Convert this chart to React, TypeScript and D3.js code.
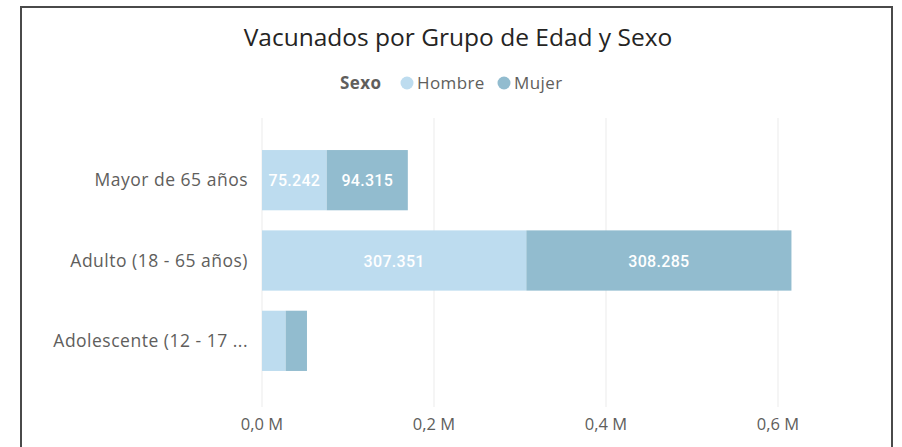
import React, { useEffect, useRef } from 'react'
import * as d3 from 'd3'

// datos
const categories = ['Mayor de 65 años', 'Adulto (18 - 65 años)', 'Adolescente (12 - 17 ...']
const hombre = [75242, 307351, 27500]
const mujer = [94315, 308285, 24800]
const seriesNames = ['Hombre', 'Mujer']
const xTicks = [0, 200000, 400000, 600000]

const W = 902
const H = 447
const colors = ['#bddcef', '#92bccf']
const FONT = '"Open Sans", "Segoe UI", sans-serif'

export default function App() {
  const ref = useRef<SVGSVGElement>(null)

  useEffect(() => {
    const svg = d3.select(ref.current)
    svg.selectAll('*').remove()

    // marco
    svg.append('rect')
      .attr('x', 21).attr('y', 7)
      .attr('width', 871).attr('height', 500)
      .attr('fill', '#fff')
      .attr('stroke', '#4a4a4a')
      .attr('stroke-width', 2)

    // titulo
    svg.append('text')
      .attr('x', 458).attr('y', 46)
      .attr('text-anchor', 'middle')
      .attr('font-family', FONT)
      .attr('font-size', 24.5)
      .attr('fill', '#252423')
      .text('Vacunados por Grupo de Edad y Sexo')

    // leyenda
    const lg = svg.append('g').attr('font-family', FONT).attr('font-size', 17).attr('letter-spacing', 0.4)
    lg.append('text').attr('x', 340).attr('y', 89)
      .attr('font-weight', 'bold').attr('fill', '#605e5c').text('Sexo')
    const lx = [407, 504]
    seriesNames.forEach((s, i) => {
      lg.append('circle').attr('cx', lx[i]).attr('cy', 83).attr('r', 6.5).attr('fill', colors[i])
      lg.append('text').attr('x', lx[i] + 10).attr('y', 89).attr('fill', '#605e5c').text(s)
    })

    const x = d3.scaleLinear().domain([0, 600000]).range([262, 778])
    const y = d3.scaleBand().domain(categories).range([140, 381]).paddingInner(0.25).paddingOuter(0.125)

    // lineas de cuadricula
    svg.append('g').selectAll('line').data(xTicks).enter().append('line')
      .attr('x1', d => x(d)).attr('x2', d => x(d))
      .attr('y1', 118).attr('y2', 407)
      .attr('stroke', '#ebebeb').attr('stroke-width', 1)

    // eje x
    svg.append('g').selectAll('text').data(xTicks).enter().append('text')
      .attr('x', d => x(d)).attr('y', 430)
      .attr('text-anchor', 'middle')
      .attr('font-family', FONT).attr('font-size', 16.5)
      .attr('fill', '#605e5c')
      .text(d => d3.format('.1f')(d / 1e6).replace('.', ',') + ' M')

    // categorias
    svg.append('g').selectAll('text').data(categories).enter().append('text')
      .attr('x', 248).attr('y', d => y(d)! + y.bandwidth() / 2 + 6)
      .attr('text-anchor', 'end')
      .attr('font-family', FONT).attr('font-size', 17.5)
      .attr('letter-spacing', 0.5)
      .attr('fill', '#605e5c')
      .text(d => d)

    // barras apiladas
    const rows = categories.map((c, i) => ({ cat: c, Hombre: hombre[i], Mujer: mujer[i] }))
    const stack = d3.stack<any>().keys(seriesNames)(rows)
    const fmt = (v: number) => d3.format(',')(v).replace(/,/g, '.')

    stack.forEach((layer, si) => {
      const g = svg.append('g')
      g.selectAll('rect').data(layer).enter().append('rect')
        .attr('x', d => x(d[0]))
        .attr('y', d => y(d.data.cat)!)
        .attr('width', d => x(d[1]) - x(d[0]))
        .attr('height', y.bandwidth())
        .attr('fill', colors[si])
      g.selectAll('text').data(layer.filter(d => x(d[1]) - x(d[0]) > 50)).enter().append('text')
        .attr('x', d => (x(d[0]) + x(d[1])) / 2)
        .attr('y', d => y(d.data.cat)! + y.bandwidth() / 2 + 6)
        .attr('text-anchor', 'middle')
        .attr('font-family', 'Roboto, sans-serif')
        .attr('font-weight', 500)
        .attr('font-size', 16)
        .attr('letter-spacing', 0.3)
        .attr('fill', '#fff')
        .text(d => fmt(d[1] - d[0]))
    })
  }, [])

  return (
    <svg ref={ref} width={W} height={H} style={{ position: 'absolute', left: 0, top: 0, background: '#fff' }} />
  )
}
